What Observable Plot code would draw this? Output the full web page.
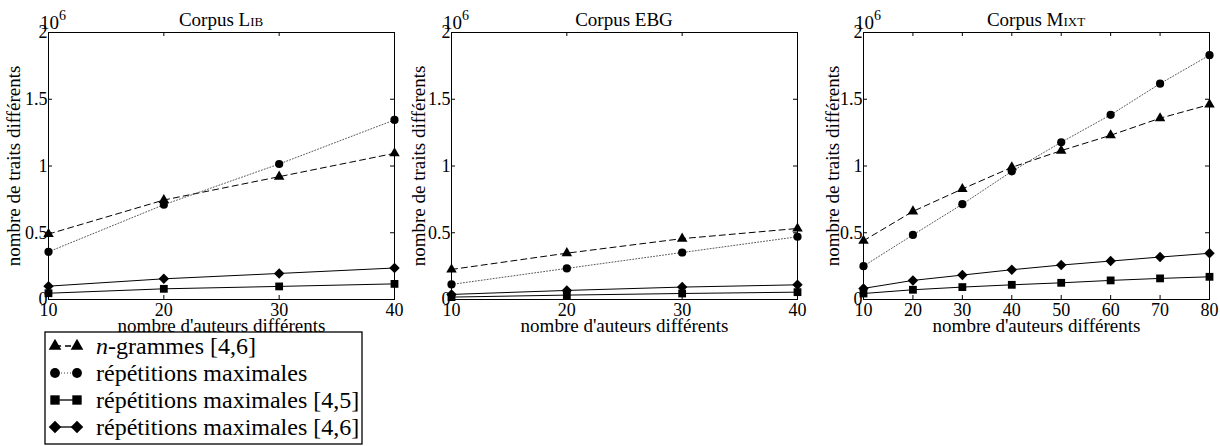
<!DOCTYPE html>
<html><head><meta charset="utf-8">
<script src="https://cdn.jsdelivr.net/npm/d3@7"></script>
<script src="https://cdn.jsdelivr.net/npm/@observablehq/plot@0.6"></script>
<style>
body{margin:0;background:#fff;}
#wrap{position:relative;width:1220px;height:446px;overflow:hidden;background:#fff;}
#wrap svg{position:absolute;top:0;}
</style></head><body><div id="wrap"></div>
<script>
// ---- data (values in millions, ×10^6) ----
const seriesNames = ["n-grammes [4,6]", "répétitions maximales", "répétitions maximales [4,5]", "répétitions maximales [4,6]"];
const authorsLib = [10, 20, 30, 40];
const libNgram  = [0.49, 0.745, 0.92, 1.095];
const libRep    = [0.357, 0.71, 1.015, 1.345];
const libRep45  = [0.047, 0.08, 0.098, 0.117];
const libRep46  = [0.10, 0.155, 0.195, 0.236];
const authorsEbg = [10, 20, 30, 40];
const ebgNgram  = [0.225, 0.347, 0.456, 0.532];
const ebgRep    = [0.113, 0.233, 0.352, 0.47];
const ebgRep45  = [0.018, 0.033, 0.045, 0.055];
const ebgRep46  = [0.038, 0.068, 0.093, 0.11];
const authorsMixt = [10, 20, 30, 40, 50, 60, 70, 80];
const mixtNgram = [0.44, 0.66, 0.828, 0.99, 1.115, 1.23, 1.358, 1.46];
const mixtRep   = [0.25, 0.484, 0.714, 0.96, 1.178, 1.383, 1.617, 1.83];
const mixtRep45 = [0.045, 0.073, 0.093, 0.11, 0.125, 0.143, 0.158, 0.17];
const mixtRep46 = [0.083, 0.143, 0.183, 0.223, 0.258, 0.288, 0.318, 0.346];
const yTicks = [0, 0.5, 1, 1.5, 2];
const yTickLabels = ["0", "0.5", "1", "1.5", "2"];
const xLabel = "nombre d'auteurs différents";
const yLabel = "nombre de traits différents";

const FONT = "Liberation Serif, serif";
const styles = [
  {symbol: "triangle", dash: "6,4", stroke: "#000", sw: 1, r: 3.9},
  {symbol: "circle", dash: "1,2", stroke: "#444", sw: 0.9, r: 4.1},
  {symbol: "square", dash: null, stroke: "#000", sw: 1, r: 4.4},
  {symbol: "diamond2", dash: null, stroke: "#000", sw: 1, r: 4.7}
];

const wrap = document.getElementById("wrap");

function panel(titleMain, titleSC, authors, vals, left, yLabelOffset) {
  const rows = [];
  seriesNames.forEach((s, i) => authors.forEach((a, j) => rows.push({serie: s, idx: i, authors: a, value: vals[i][j]})));
  const W = 400, H = 340, mt = 32, mb = 41, ml = 48, mr = 6;
  const innerH = H - mt - mb, innerW = W - ml - mr;
  const marks = [
    Plot.frame({stroke: "#000", strokeWidth: 1}),
    Plot.tickX(authors, {x: d => d, insetTop: innerH - 4, stroke: "#000"}),
    Plot.tickX(authors, {x: d => d, insetBottom: innerH - 4, stroke: "#000"}),
    Plot.tickY(yTicks, {y: d => d, insetRight: innerW - 4, stroke: "#000"}),
    Plot.tickY(yTicks, {y: d => d, insetLeft: innerW - 4, stroke: "#000"}),
    Plot.axisX({ticks: authors, tickSize: 0, tickPadding: 4, tickFormat: d => String(d), label: null, fontSize: 18}),
    Plot.axisY({ticks: yTicks, tickSize: 0, tickPadding: 1, tickFormat: d => yTickLabels[yTicks.indexOf(d)], label: null, fontSize: 18}),
    Plot.text([xLabel], {frameAnchor: "bottom", text: d => d, dy: 26, textAnchor: "middle", lineAnchor: "middle", fill: "#000", fontSize: 19}),
    Plot.text([yLabel], {frameAnchor: "left", text: d => d, dx: -yLabelOffset, rotate: -90, textAnchor: "middle", lineAnchor: "middle", fill: "#000", fontSize: 19})
  ];
  styles.forEach((st, i) => {
    const data = rows.filter(d => d.idx === i);
    marks.push(Plot.line(data, {x: "authors", y: "value", stroke: st.stroke, strokeWidth: st.sw, strokeDasharray: st.dash}));
  });
  styles.forEach((st, i) => {
    const data = rows.filter(d => d.idx === i);
    marks.push(Plot.dot(data, {x: "authors", y: "value", symbol: () => st.symbol, r: st.r, fill: "#000", stroke: "none"}));
  });
  const svg = Plot.plot({
    width: W, height: H,
    marginTop: mt, marginBottom: mb, marginLeft: ml, marginRight: mr,
    style: {fontFamily: FONT, fontSize: "18px", color: "#000", background: "transparent", overflow: "visible"},
    x: {domain: [authors[0], authors[authors.length - 1]]},
    y: {domain: [0, 2]},
    symbol: {type: "identity"},
    marks
  });
  svg.style.left = left + "px";
  const s = d3.select(svg);
  const cx = ml + innerW / 2;
  const t = s.append("text").attr("x", cx).attr("y", 26).attr("text-anchor", "middle")
    .attr("font-family", FONT).attr("font-size", 19).attr("fill", "#000");
  t.append("tspan").text(titleMain);
  if (titleSC) t.append("tspan").attr("font-variant", "small-caps").text(titleSC);
  const e = s.append("text").attr("x", ml + 5).attr("y", 29)
    .attr("font-family", FONT).attr("font-size", 19).attr("fill", "#000");
  e.append("tspan").text("10");
  e.append("tspan").attr("dy", -9).attr("font-size", 14).text("6");
  wrap.appendChild(svg);
}

panel("Corpus L", "ib", authorsLib, [libNgram, libRep, libRep45, libRep46], 0, 35);
panel("Corpus EBG", null, authorsEbg, [ebgNgram, ebgRep, ebgRep45, ebgRep46], 403, 33);
panel("Corpus M", "ixt", authorsMixt, [mixtNgram, mixtRep, mixtRep45, mixtRep46], 815, 31);

// ---- legend ----
const leg = d3.select(wrap).append("svg").attr("width", 320).attr("height", 115)
  .style("left", "44px").style("top", "331px");
leg.append("rect").attr("x", 1).attr("y", 1).attr("width", 317).attr("height", 112)
  .attr("fill", "#fff").attr("stroke", "#000").attr("stroke-width", 1.3);
const legSym = {triangle: d3.symbolTriangle, circle: d3.symbolCircle, square: d3.symbolSquare, diamond2: d3.symbolDiamond2};
styles.forEach((st, i) => {
  const y = 15 + i * 27;
  const g = leg.append("g");
  g.append("line").attr("x1", 11).attr("x2", 33).attr("y1", y).attr("y2", y)
    .attr("stroke", st.stroke).attr("stroke-width", st.sw + 0.3).attr("stroke-dasharray", st.dash);
  const size = Math.PI * Math.pow(st.r * 1.2, 2);
  [11, 33].forEach(x => g.append("path").attr("d", d3.symbol(legSym[st.symbol], size)()).attr("transform", `translate(${x},${y})`).attr("fill", "#000"));
  const t = g.append("text").attr("x", 52).attr("y", y).attr("dy", "0.35em")
    .attr("font-family", FONT).attr("font-size", 24).attr("fill", "#000");
  if (i === 0) {
    t.append("tspan").attr("font-style", "italic").text("n");
    t.append("tspan").text(seriesNames[0].slice(1));
  } else t.text(seriesNames[i]);
});
</script></body></html>
